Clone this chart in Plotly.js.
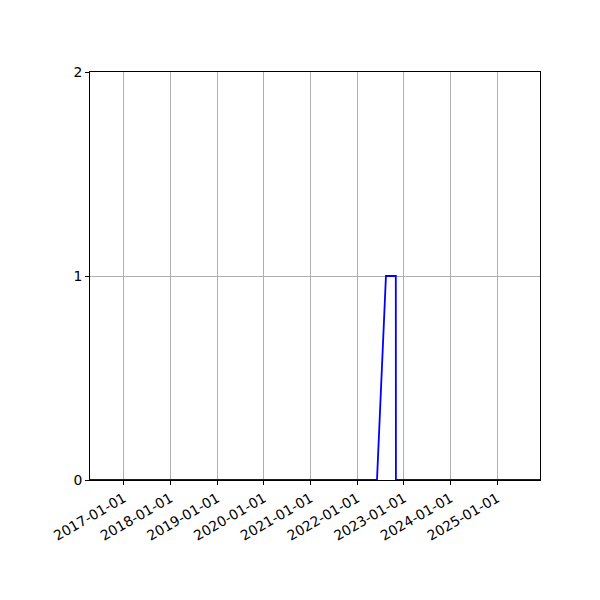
<!DOCTYPE html>
<html>
<head>
<meta charset="utf-8">
<script src="https://cdn.plot.ly/plotly-3.0.1.min.js"></script>
<style>html,body{margin:0;padding:0;background:#fff;}#chart{width:600px;height:600px;}</style>
</head>
<body>
<div id="chart"></div>
<script>
const dates = ["2016-04-12", "2022-06-05", "2022-08-14", "2022-10-30", "2022-10-31", "2025-12-01"];
const values = [0, 0, 1, 1, 0, 0];
const tickDates = ["2017-01-01","2018-01-01","2019-01-01","2020-01-01","2021-01-01","2022-01-01","2023-01-01","2024-01-01","2025-01-01"];
const yTicks = [0, 1, 2];

const axisCommon = {
  showline: true, linecolor: "#000", linewidth: 1, mirror: true,
  ticks: "outside", ticklen: 4, tickcolor: "#000", tickwidth: 1,
  showgrid: true, gridcolor: "#b0b0b0", gridwidth: 1, zeroline: false,
  tickfont: {family: "DejaVu Sans", size: 13.9, color: "#000"}
};

Plotly.newPlot("chart", [{
  x: dates, y: values, type: "scatter", mode: "lines",
  line: {color: "#0000ff", width: 1.8}, showlegend: false
}], {
  width: 600, height: 600,
  margin: {l: 90, r: 60, t: 72, b: 120},
  paper_bgcolor: "#fff", plot_bgcolor: "#fff",
  xaxis: Object.assign({}, axisCommon, {
    type: "date", range: [dates[0], dates[dates.length-1]],
    tickmode: "array", tickvals: tickDates, ticktext: tickDates, tickangle: -30
  }),
  yaxis: Object.assign({}, axisCommon, {
    range: [0, 2], tickmode: "array", tickvals: yTicks, ticktext: yTicks.map(String)
  })
}, {staticPlot: true});
</script>
</body>
</html>
